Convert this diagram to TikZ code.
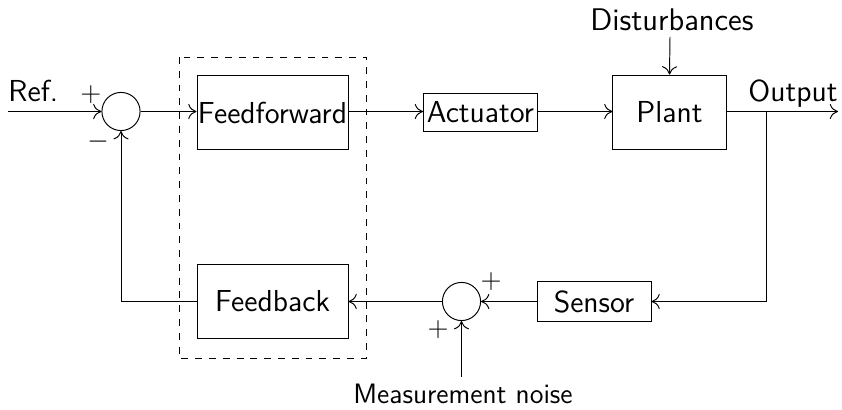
\documentclass[tikz,border=0pt]{standalone}
\usetikzlibrary{arrows.meta}
\begin{document}
\begin{tikzpicture}[x=0.435pt,y=-0.435pt,
  font=\sffamily\fontsize{13.2}{16}\selectfont,
  line width=0.42pt,
  block/.style={draw,inner sep=0pt,minimum width=65.7pt,minimum height=32.6pt},
  smallblock/.style={draw,inner sep=0pt,minimum width=49.6pt,minimum height=16.6pt},
  sumnode/.style={draw,circle,inner sep=0pt,minimum size=16.6pt},
  lbl/.style={inner sep=0pt},
  sgn/.style={inner sep=0pt,font=\fontsize{12.5}{14}\selectfont},
  sig/.style={-{To[length=3.6pt,width=6.6pt]}}]
\useasboundingbox (0,0) rectangle (842,410);

% forward path
\node[sumnode] (s1) at (121,111.5) {};
\node[block] (ff) at (272.5,112.5) {Feedforward};
\node[smallblock] (act) at (480.5,112.5) {Actuator};
\node[block,minimum width=49.2pt] (plant) at (669.5,112.5) {Plant};

% feedback path
\node[smallblock,minimum height=17pt] (sens) at (594,301.5) {Sensor};
\node[sumnode] (s2) at (461.5,301.5) {};
\node[block] (fb) at (272.5,301.5) {Feedback};

% controller grouping
\coordinate (g1) at (179,57);
\coordinate (g2) at (366.5,358);
\draw[dashed] (g1) rectangle (g2);

% labels
\node[lbl,anchor=base west] (ref) at (8,102) {Ref.};
\node[sgn] (p1) at (91,95) {$+$};
\node[sgn] (m1) at (98,142) {$-$};
\node[lbl,font=\sffamily\fontsize{13.6}{16}\selectfont] (dist) at (672,20) {Disturbances};
\node[lbl,anchor=base east] (outl) at (838,102) {Output};
\node[sgn] (p2) at (491,282) {$+$};
\node[sgn] (p3) at (438,330) {$+$};
\node[lbl,font=\sffamily\fontsize{12.2}{15}\selectfont] (noise) at (463,394) {Measurement noise};

% signal ends
\coordinate (in) at (8,111.5);
\coordinate (out) at (838,111.5);
\coordinate (br) at (766,111.5);
\coordinate (nz) at (461.5,377);
\coordinate (fbc) at (121,301.5);
\coordinate (dtop) at (670,37);

% connectors
\draw[sig] (in) -- (s1.west);
\draw[sig] (s1.east) -- (ff.west |- s1.east);
\draw[sig] (ff.east |- s1.east) -- (act.west |- s1.east);
\draw[sig] (act.east |- s1.east) -- (plant.west |- s1.east);
\draw[sig] (dtop) -- (plant.north);
\draw[sig] (plant.east |- s1.east) -- (out);
\draw[sig] (br) -- (br |- sens.east) -- (sens.east);
\draw[sig] (sens.west) -- (s2.east);
\draw[sig] (nz) -- (s2.south);
\draw[sig] (s2.west) -- (fb.east);
\draw[sig] (fb.west) -- (fbc) -- (s1.south);
\end{tikzpicture}
\end{document}
